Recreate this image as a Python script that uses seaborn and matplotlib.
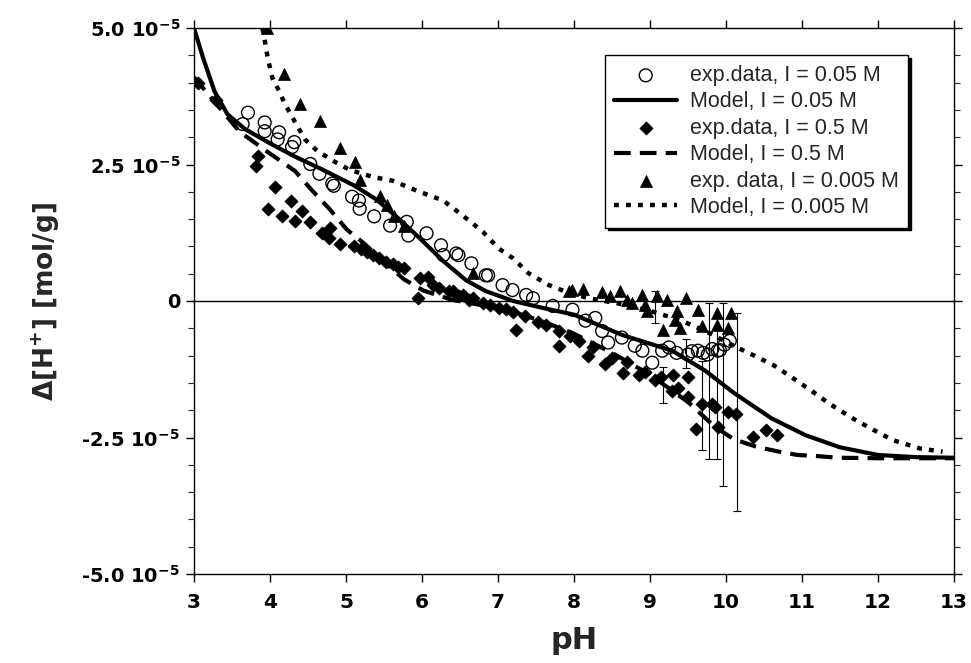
import numpy as np
import pandas as pd
import matplotlib
matplotlib.use("Agg")
import matplotlib.pyplot as plt
import seaborn as sns

# values, y in units of 1e-5 mol/g
SCALE = 1e-5

# exp. data, I = 0.05 M (open circles)
circPH = [3.64, 3.71, 3.93, 3.93, 4.10, 4.12, 4.29, 4.32, 4.53, 4.65, 4.82, 4.84, 5.08, 5.17,
          5.18, 5.37, 5.58, 5.80, 5.82, 6.06, 6.25, 6.28, 6.45, 6.48, 6.65, 6.84, 6.87, 7.06,
          7.19, 7.37, 7.46, 7.72, 7.98, 8.15, 8.28, 8.37, 8.45, 8.63, 8.80, 8.90, 9.03, 9.16,
          9.25, 9.35, 9.50, 9.55, 9.63, 9.70, 9.76, 9.82, 9.89, 9.92, 9.98, 10.05]
circY = [3.24, 3.45, 3.27, 3.11, 2.96, 3.09, 2.82, 2.91, 2.51, 2.33, 2.15, 2.11, 1.91, 1.84,
         1.69, 1.55, 1.38, 1.45, 1.20, 1.24, 1.02, 0.84, 0.87, 0.84, 0.69, 0.47, 0.47, 0.29,
         0.20, 0.11, 0.05, -0.09, -0.16, -0.36, -0.31, -0.55, -0.76, -0.67, -0.82, -0.91, -1.13, -0.91,
         -0.85, -0.95, -0.98, -0.92, -0.91, -0.95, -0.98, -0.88, -0.91, -0.90, -0.80, -0.73]

# exp. data, I = 0.5 M (filled diamonds)
diaPH = [3.05, 3.29, 3.81, 3.84, 3.98, 4.07, 4.16, 4.27, 4.33, 4.42, 4.52, 4.69, 4.78, 4.79,
         4.92, 5.10, 5.20, 5.27, 5.35, 5.44, 5.52, 5.62, 5.68, 5.76, 5.95, 5.97, 6.08, 6.15,
         6.23, 6.36, 6.41, 6.49, 6.54, 6.62, 6.67, 6.80, 6.90, 7.01, 7.10, 7.20, 7.24, 7.35,
         7.53, 7.63, 7.80, 7.80, 7.95, 8.06, 8.18, 8.25, 8.41, 8.50, 8.65, 8.70, 8.85, 8.93,
         9.07, 9.15, 9.29, 9.30, 9.37, 9.50, 9.50, 9.61, 9.68, 9.81, 9.85, 9.89, 10.02, 10.13,
         10.35, 10.53, 10.67]
diaY = [4.00, 3.69, 2.47, 2.65, 1.69, 2.09, 1.56, 1.84, 1.47, 1.65, 1.45, 1.24, 1.15, 1.33,
        1.05, 1.00, 0.95, 0.90, 0.85, 0.78, 0.72, 0.67, 0.62, 0.60, 0.05, 0.42, 0.44, 0.30,
        0.24, 0.18, 0.18, 0.09, 0.11, 0.02, 0.05, -0.04, -0.08, -0.13, -0.15, -0.20, -0.53, -0.28,
        -0.38, -0.44, -0.55, -0.82, -0.65, -0.73, -1.00, -0.85, -1.16, -1.04, -1.31, -1.12, -1.36, -1.30,
        -1.45, -1.40, -1.64, -1.35, -1.60, -1.40, -1.76, -2.35, -1.89, -1.89, -1.95, -2.31, -2.04, -2.07,
        -2.49, -2.36, -2.45]

# exp. data, I = 0.005 M (filled triangles)
triPH = [3.96, 4.19, 4.39, 4.66, 4.92, 5.12, 5.18, 5.45, 5.54, 5.63, 5.76, 6.67, 7.93, 7.98,
         8.12, 8.37, 8.47, 8.60, 8.70, 8.76, 8.90, 8.93, 8.96, 9.09, 9.17, 9.22, 9.33, 9.35,
         9.39, 9.48, 9.63, 9.68, 9.88, 9.88, 10.02, 10.07]
triY = [5.00, 4.15, 3.60, 3.29, 2.80, 2.55, 2.22, 1.93, 1.75, 1.56, 1.38, 0.51, 0.18, 0.20,
        0.22, 0.16, 0.09, 0.18, 0.02, -0.04, 0.11, -0.07, -0.18, 0.09, -0.53, 0.02, -0.35, -0.18,
        -0.49, 0.05, -0.16, -0.45, -0.22, -0.44, -0.49, -0.22]

# error bars (pH, lower end, upper end)
errPH = [9.07, 9.17, 9.48, 9.68, 9.77, 9.88, 9.96, 10.14]
errLo = [-0.40, -1.87, -1.22, -2.73, -2.89, -2.89, -3.38, -3.85]
errHi = [0.18, -1.20, -0.70, -1.10, -0.04, -0.50, -0.04, -0.22]

# model curves
modA_PH = [3.00, 3.12, 3.27, 3.44, 3.67, 3.97, 4.32, 4.70, 5.10, 5.40, 5.70, 5.97, 6.28, 6.58,
           6.84, 7.20, 7.60, 8.00, 8.63, 9.29, 9.72, 10.10, 10.60, 11.05, 11.50, 12.00, 12.50, 13.00]
modA_Y = [5.00, 4.45, 3.84, 3.42, 3.15, 2.91, 2.65, 2.40, 2.12, 1.86, 1.50, 1.15, 0.73, 0.38,
          0.18, 0.00, -0.13, -0.25, -0.62, -0.91, -1.27, -1.68, -2.15, -2.46, -2.68, -2.82, -2.86, -2.87]

modB_PH = [3.00, 3.27, 3.60, 4.00, 4.33, 4.55, 4.78, 5.01, 5.24, 5.50, 5.76, 6.02, 6.40, 6.80,
           7.20, 7.60, 8.00, 8.50, 9.00, 9.50, 9.85, 10.10, 10.40, 10.70, 10.94, 11.20, 11.46, 12.00, 13.00]
modB_Y = [4.10, 3.65, 3.10, 2.70, 2.38, 2.03, 1.69, 1.31, 1.05, 0.72, 0.40, 0.19, 0.02, -0.08,
          -0.20, -0.38, -0.60, -0.95, -1.35, -1.85, -2.30, -2.53, -2.67, -2.76, -2.82, -2.84, -2.87, -2.88, -2.88]

modC_PH = [3.90, 3.93, 3.97, 4.03, 4.10, 4.20, 4.32, 4.46, 4.62, 4.84, 5.05, 5.36, 5.62, 5.93,
           6.28, 6.54, 6.80, 7.01, 7.20, 7.40, 7.67, 7.93, 8.20, 8.60, 9.00, 9.40, 9.80, 10.10,
           10.37, 10.63, 10.90, 11.16, 11.37, 11.68, 11.94, 12.20, 12.55, 12.85]
modC_Y = [5.00, 4.78, 4.45, 4.09, 3.90, 3.60, 3.30, 2.96, 2.75, 2.56, 2.40, 2.27, 2.20, 2.02,
          1.84, 1.56, 1.27, 0.96, 0.78, 0.51, 0.29, 0.15, 0.05, -0.05, -0.18, -0.35, -0.60, -0.82,
          -1.00, -1.18, -1.43, -1.68, -1.89, -2.16, -2.36, -2.55, -2.70, -2.76]

yTicks = [-5.0, -2.5, 0.0, 2.5, 5.0]
yTickLabels = ["-5.0 10$^{-5}$", "-2.5 10$^{-5}$", "0", "2.5 10$^{-5}$", "5.0 10$^{-5}$"]
xTicks = list(range(3, 14))


def toFrame(ph, y):
    """pH / Delta[H+] table in mol/g"""
    return pd.DataFrame({"pH": ph, "dH": np.array(y) * SCALE})


sns.set_style("ticks")
plt.rcParams["font.family"] = ["Liberation Sans", "DejaVu Sans"]
plt.rcParams["mathtext.fontset"] = "dejavusans"
plt.rcParams["mathtext.default"] = "bf"

# axis texts are set in a wide bold face
axisFont = {"family": "DejaVu Sans", "weight": "bold"}

fig = plt.figure(figsize=(9.71, 6.63), dpi=100)
ax = fig.add_axes([194 / 971, 1 - 574 / 663, 760 / 971, 546 / 663])

ax.axhline(0, color="black", lw=1.0, zorder=1)

# error bars
errPH_a = np.array(errPH)
lo = np.array(errLo) * SCALE
hi = np.array(errHi) * SCALE
mid = (lo + hi) / 2
ax.errorbar(errPH_a, mid, yerr=[mid - lo, hi - mid], fmt="none", ecolor="black",
            elinewidth=0.8, capsize=3, capthick=0.8, zorder=2)

sns.scatterplot(data=toFrame(circPH, circY), x="pH", y="dH", ax=ax, marker="o", s=85,
                facecolor="none", edgecolor="black", linewidth=1.0,
                label="exp.data, I = 0.05 M", zorder=3)
sns.lineplot(data=toFrame(modA_PH, modA_Y), x="pH", y="dH", ax=ax, color="black", lw=3.0,
             sort=False, estimator=None, label="Model, I = 0.05 M", zorder=4)
sns.scatterplot(data=toFrame(diaPH, diaY), x="pH", y="dH", ax=ax, marker="D", s=45,
                color="black", edgecolor="black", linewidth=0.5,
                label="exp.data, I = 0.5 M", zorder=3)
sns.lineplot(data=toFrame(modB_PH, modB_Y), x="pH", y="dH", ax=ax, color="black", lw=3.0,
             dashes=(4, 2.2), sort=False, estimator=None, label="Model, I = 0.5 M", zorder=4)
sns.scatterplot(data=toFrame(triPH, triY), x="pH", y="dH", ax=ax, marker="^", s=75,
                color="black", edgecolor="black", linewidth=0.5,
                label="exp. data, I = 0.005 M", zorder=3)
sns.lineplot(data=toFrame(modC_PH, modC_Y), x="pH", y="dH", ax=ax, color="black", lw=3.2,
             dashes=(1.1, 1.6), sort=False, estimator=None, label="Model, I = 0.005 M", zorder=4)

ax.set_xlim(3, 13)
ax.set_ylim(-5 * SCALE, 5 * SCALE)
ax.set_xticks(xTicks)
ax.set_xticklabels([str(t) for t in xTicks], fontdict=axisFont, fontsize=14.5)
ax.set_yticks([t * SCALE for t in yTicks])
ax.set_yticklabels(yTickLabels, fontdict=axisFont, fontsize=14)
ax.set_yticks(np.arange(-5, 5.01, 0.5) * SCALE, minor=True)

for side in ["top", "right", "bottom", "left"]:
    ax.spines[side].set_visible(True)
    ax.spines[side].set_linewidth(1.0)
    ax.spines[side].set_color("black")

ax.tick_params(axis="both", which="major", direction="out", length=6, width=1.0,
               top=True, right=True, colors="black")
ax.tick_params(axis="x", which="major", pad=8)
ax.tick_params(axis="y", which="major", pad=4)
ax.tick_params(axis="y", which="minor", direction="out", length=4, width=0.8, right=True)

ax.set_xlabel("pH", fontdict=axisFont, fontsize=22, labelpad=10)
ax.set_ylabel(r"$\Delta$[H$^{+}$] [mol/g]", fontdict=axisFont, fontsize=19, labelpad=14)

leg = ax.legend(loc="upper right", bbox_to_anchor=(0.94, 0.95), fontsize=15.5, frameon=True,
                fancybox=False, shadow={"color": "black", "alpha": 1}, handlelength=2.9,
                handletextpad=0.6, labelspacing=0.25, borderpad=0.45, borderaxespad=0)
leg.get_frame().set_edgecolor("black")
leg.get_frame().set_linewidth(1.0)
leg.get_frame().set_alpha(1)

fig.savefig("out.png", dpi=100)
